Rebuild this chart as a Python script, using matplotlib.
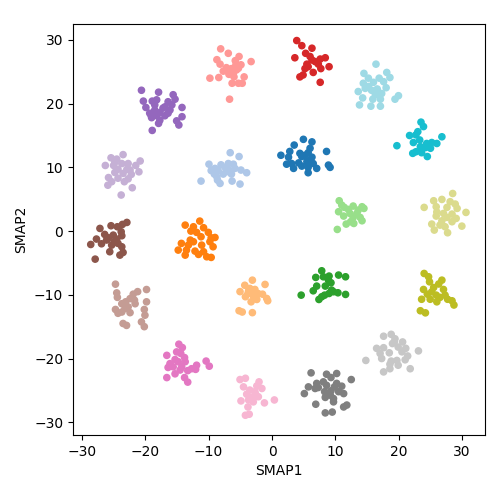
import numpy as np
import matplotlib
matplotlib.use("Agg")
import matplotlib.pyplot as plt

# points, one list per cluster (SMAP1, SMAP2)
c0_blue = [(4.95, 14.4), (6.3, 14.0), (3.5, 13.5), (6.0, 13.0), (2.8, 12.5), (4.4, 12.2), (5.7, 12.3),
           (1.4, 11.9), (8.6, 12.5), (2.6, 11.6), (4.7, 11.7), (6.3, 11.6), (5.5, 10.9), (4.2, 10.7),
           (3.1, 10.6), (2.3, 10.5), (6.5, 10.6), (8.9, 10.36), (9.16, 10.0), (3.4, 9.84), (4.7, 10.2),
           (5.7, 10.0), (7.05, 9.84), (5.7, 9.16), (5.2, 11.9), (6.0, 11.15)]
c1_lightblue = [(-6.6, 12.3), (-5.2, 11.7), (-9.95, 10.5), (-8.05, 10.4), (-6.9, 10.6), (-6.1, 10.5),
                (-9.0, 9.84), (-7.4, 10.0), (-8.5, 9.5), (-6.9, 9.68), (-5.85, 9.84), (-9.6, 9.5),
                (-4.9, 9.58), (-4.0, 9.16), (-9.1, 8.95), (-7.7, 8.95), (-6.4, 8.95), (-11.2, 7.85),
                (-8.6, 8.0), (-6.3, 7.85), (-5.05, 7.38), (-8.2, 7.48), (-7.16, 9.32), (-8.7, 8.5)]
c2_orange = [(-11.4, 1.57), (-13.7, 0.94), (-12.4, 0.68), (-10.8, 0.53), (-12.8, 0.0), (-11.9, -0.2),
             (-10.05, -0.2), (-11.2, -0.89), (-9.6, -1.05), (-9.0, -1.0), (-12.4, -1.67), (-14.3, -1.93),
             (-13.2, -2.2), (-11.1, -2.2), (-9.8, -1.67), (-14.8, -2.98), (-13.5, -2.98), (-12.15, -3.14),
             (-10.8, -3.24), (-9.3, -2.46), (-13.7, -3.77), (-11.6, -3.66), (-10.3, -4.03), (-9.6, -4.13),
             (-12.9, -1.41)]
c3_lightorange = [(-3.1, -7.7), (-4.3, -8.5), (-1.1, -8.37), (-3.5, -9.0), (-2.7, -9.16), (-5.05, -9.5),
                  (-3.8, -9.8), (-2.2, -9.8), (-1.5, -9.9), (-2.95, -10.2), (-4.2, -10.3), (-2.4, -10.73),
                  (-0.84, -10.57), (-0.68, -10.94), (-3.3, -11.1), (-5.2, -12.5), (-4.7, -12.7),
                  (-3.1, -12.8), (-3.7, -9.37), (-2.8, -9.5)]
c4_green = [(7.84, -6.23), (6.9, -7.27), (8.1, -7.17), (9.0, -7.06), (10.5, -6.9), (11.6, -7.17),
            (9.3, -8.11), (7.05, -8.63), (8.4, -8.63), (6.5, -9.37), (4.6, -10.05), (8.3, -10.05),
            (9.0, -9.79), (9.7, -9.52), (10.4, -9.68), (11.6, -9.94), (7.4, -10.73), (9.4, -9.26),
            (8.9, -7.69), (7.85, -10.3)]
c5_lightgreen = [(10.6, 4.76), (12.8, 3.93), (14.2, 3.82), (11.4, 3.72), (14.5, 3.56), (10.5, 3.04),
                 (12.3, 2.77), (13.4, 2.77), (11.3, 2.36), (12.8, 2.15), (13.9, 2.15), (12.4, 1.47),
                 (14.2, 1.62), (11.7, 1.1), (12.9, 1.2), (10.3, 0.26), (11.0, 4.08), (12.05, 3.4),
                 (13.6, 3.3)]
c6_red = [(3.9, 29.9), (4.7, 29.1), (6.3, 28.7), (3.6, 27.2), (5.3, 27.9), (6.3, 26.85), (7.6, 27.0),
          (8.4, 27.2), (5.5, 26.2), (7.3, 26.2), (9.0, 25.8), (5.2, 25.5), (7.7, 25.5), (6.5, 24.9),
          (4.4, 24.2), (4.9, 24.5), (5.7, 25.8), (7.6, 23.35), (6.8, 26.6), (6.0, 27.4)]
c7_lightred = [(-8.1, 28.6), (-6.9, 27.9), (-5.2, 27.4), (-8.7, 26.9), (-5.8, 26.75), (-8.2, 26.2),
               (-3.3, 26.6), (-4.9, 26.1), (-6.4, 25.5), (-7.7, 25.1), (-5.6, 25.3), (-6.8, 24.6),
               (-4.4, 24.2), (-9.8, 24.0), (-8.4, 24.1), (-6.0, 24.2), (-6.3, 23.2), (-5.3, 23.2),
               (-4.7, 23.2), (-6.7, 20.7), (-5.3, 25.55), (-7.2, 25.65), (-6.1, 24.75), (-5.7, 26.1)]
c8_purple = [(-20.6, 22.1), (-17.9, 21.8), (-15.6, 21.4), (-15.3, 20.7), (-20.3, 20.4), (-18.9, 20.4),
             (-18.2, 20.6), (-16.4, 20.3), (-15.8, 19.8), (-16.9, 19.5), (-19.9, 19.4), (-14.2, 19.4),
             (-18.5, 19.0), (-17.7, 18.6), (-19.3, 18.5), (-16.4, 18.5), (-19.0, 17.8), (-18.2, 18.1),
             (-16.9, 18.1), (-14.2, 17.95), (-15.05, 17.3), (-17.9, 16.9), (-14.7, 16.65), (-18.9, 15.8),
             (-18.5, 19.8), (-17.2, 19.3), (-16.1, 19.0), (-19.1, 18.2), (-17.7, 17.4)]
c9_lightpurple = [(-23.5, 12.0), (-25.4, 11.5), (-24.5, 11.3), (-20.8, 11.0), (-23.7, 10.6), (-22.7, 10.6),
                  (-26.3, 10.3), (-25.0, 10.3), (-21.5, 10.3), (-24.3, 9.7), (-22.9, 9.7), (-21.0, 9.3),
                  (-24.8, 9.2), (-23.5, 9.05), (-22.2, 8.9), (-25.8, 8.4), (-24.3, 8.3), (-22.7, 8.2),
                  (-25.3, 7.75), (-23.3, 7.75), (-25.9, 7.2), (-22.05, 6.8), (-23.8, 5.66), (-24.8, 10.8),
                  (-22.4, 9.6)]
c10_brown = [(-22.9, 1.36), (-23.6, 1.05), (-25.4, 0.84), (-24.4, 0.68), (-27.15, 0.42), (-23.8, -0.1),
             (-26.4, -0.52), (-25.05, -0.63), (-23.7, -0.73), (-27.7, -1.25), (-26.1, -1.4), (-24.9, -1.67),
             (-24.3, -1.93), (-28.6, -2.1), (-26.9, -1.99), (-23.7, -2.46), (-25.6, -3.24), (-23.5, -3.35),
             (-24.0, -3.77), (-27.9, -4.4), (-25.8, -1.05), (-24.5, -1.25), (-25.3, -2.2)]
c11_lightbrown = [(-24.7, -8.33), (-19.8, -9.17), (-21.2, -9.5), (-24.5, -9.7), (-21.9, -9.9), (-19.8, -11.1),
                  (-24.4, -10.4), (-22.4, -10.6), (-23.1, -11.1), (-21.6, -11.4), (-23.7, -11.4),
                  (-24.7, -12.3), (-23.2, -12.15), (-22.7, -11.9), (-20.15, -12.3), (-24.3, -12.9),
                  (-22.4, -12.8), (-20.05, -13.2), (-23.5, -14.5), (-20.6, -14.25), (-22.95, -14.8),
                  (-20.15, -15.0), (-23.7, -12.7), (-21.7, -10.84)]
c12_pink = [(-14.7, -17.75), (-14.15, -18.28), (-15.05, -18.96), (-16.6, -19.5), (-14.4, -19.2),
            (-13.8, -19.85), (-15.3, -20.16), (-14.8, -20.5), (-16.1, -20.8), (-13.7, -20.5), (-10.4, -20.4),
            (-11.9, -21.05), (-15.6, -21.3), (-14.25, -21.3), (-16.4, -21.4), (-12.7, -21.6), (-9.9, -21.2),
            (-13.3, -21.9), (-12.05, -21.7), (-15.3, -22.4), (-16.6, -22.99), (-13.8, -22.99),
            (-13.3, -23.7), (-14.5, -21.8)]
c13_lightpink = [(-4.2, -23.1), (-5.05, -23.3), (-2.05, -23.66), (-4.5, -24.45), (-2.4, -24.3), (-3.5, -24.95),
                 (-1.6, -24.7), (-4.0, -25.6), (-2.6, -25.6), (-3.2, -26.1), (-2.16, -26.0), (-4.9, -26.65),
                 (-3.7, -26.5), (-1.2, -26.96), (0.37, -26.5), (-3.8, -27.6), (-3.6, -28.74), (-4.2, -28.9),
                 (-2.95, -26.8), (-2.7, -25.2)]
c14_gray = [(6.16, -22.25), (8.6, -22.46), (10.2, -22.35), (9.3, -22.98), (12.5, -23.3), (7.05, -23.9),
            (8.1, -23.66), (5.74, -24.45), (7.3, -24.55), (8.6, -24.2), (9.84, -24.45), (11.0, -24.34),
            (6.8, -24.7), (8.3, -25.2), (9.3, -25.07), (10.5, -25.2), (5.1, -25.5), (9.2, -25.75),
            (11.3, -25.5), (8.4, -26.1), (9.7, -26.28), (6.9, -27.17), (9.7, -26.8), (11.3, -27.6),
            (11.8, -27.3), (8.4, -28.53), (9.5, -28.4), (10.2, -23.9)]
c15_lightgray = [(18.8, -16.2), (17.6, -16.5), (19.4, -16.9), (20.6, -17.4), (19.0, -17.65), (16.5, -18.4),
                 (17.6, -18.3), (19.9, -18.2), (21.1, -18.4), (23.1, -18.8), (20.5, -18.95), (17.05, -19.2),
                 (18.5, -19.1), (21.4, -19.6), (17.3, -20.0), (18.8, -20.4), (19.7, -20.3), (21.0, -20.2),
                 (14.8, -20.3), (18.6, -20.9), (19.9, -21.05), (21.8, -21.6), (17.6, -22.1), (18.6, -21.6),
                 (19.3, -17.4)]
c16_olive = [(24.0, -6.65), (24.7, -7.17), (24.85, -7.96), (26.8, -7.7), (26.3, -8.3), (23.9, -9.16),
             (25.5, -8.85), (27.05, -9.16), (24.5, -9.9), (25.9, -10.05), (27.3, -10.05), (23.6, -10.7),
             (24.95, -10.7), (26.5, -10.4), (27.7, -10.7), (26.0, -11.1), (28.4, -10.94), (28.7, -11.6),
             (23.4, -12.5), (24.2, -12.83), (25.2, -9.53)]
c17_lightolive = [(28.5, 5.9), (25.5, 4.76), (26.8, 4.97), (28.1, 4.61), (24.0, 3.72), (28.9, 4.24),
                  (25.9, 3.82), (27.6, 3.72), (29.2, 3.56), (30.6, 2.93), (27.05, 2.77), (28.4, 2.67),
                  (25.9, 2.36), (27.6, 2.15), (29.05, 1.99), (26.8, 1.62), (28.4, 1.47), (25.2, 1.1),
                  (29.95, 0.78), (27.3, 0.68), (25.6, 0.16), (27.7, -0.26), (26.5, 0.94), (26.0, 3.0)]
c18_cyan = [(23.5, 17.1), (23.9, 16.4), (23.0, 15.6), (21.7, 15.0), (22.7, 15.1), (26.8, 14.8), (22.3, 13.9),
            (24.4, 13.75), (25.2, 13.9), (26.0, 13.75), (19.7, 13.4), (23.4, 13.25), (24.2, 13.1),
            (22.7, 12.45), (23.6, 12.3), (22.2, 12.2), (24.5, 11.7), (25.0, 13.0), (23.3, 14.3)]
c19_lightcyan = [(16.4, 26.2), (14.5, 24.75), (18.1, 24.9), (15.2, 24.0), (16.9, 24.0), (18.6, 24.1),
                 (14.4, 23.2), (16.0, 23.35), (17.6, 23.45), (13.6, 21.9), (14.7, 22.4), (15.7, 22.1),
                 (16.6, 22.3), (18.0, 22.5), (17.3, 21.6), (14.3, 20.9), (15.9, 20.7), (17.1, 20.7),
                 (19.95, 21.25), (19.4, 20.7), (13.8, 19.8), (15.6, 19.6), (17.1, 19.6), (15.2, 22.7),
                 (16.3, 21.4)]

clusters = [c0_blue, c1_lightblue, c2_orange, c3_lightorange, c4_green, c5_lightgreen, c6_red,
            c7_lightred, c8_purple, c9_lightpurple, c10_brown, c11_lightbrown, c12_pink, c13_lightpink,
            c14_gray, c15_lightgray, c16_olive, c17_lightolive, c18_cyan, c19_lightcyan]

pts = np.array([p for c in clusters for p in c])
labels = np.concatenate([[i] * len(c) for i, c in enumerate(clusters)])

fig, ax = plt.subplots(figsize=(5, 5), dpi=100)
fig.subplots_adjust(left=0.146, right=0.97, top=0.952, bottom=0.13)
ax.scatter(pts[:, 0], pts[:, 1], c=labels, cmap='tab20', vmin=0, vmax=19, s=20)
ax.set_xlim(-31.4, 33.6)
ax.set_ylim(-32.0, 32.5)
ax.set_xlabel('SMAP1')
ax.set_ylabel('SMAP2')

fig.savefig('out.png', dpi=100)
